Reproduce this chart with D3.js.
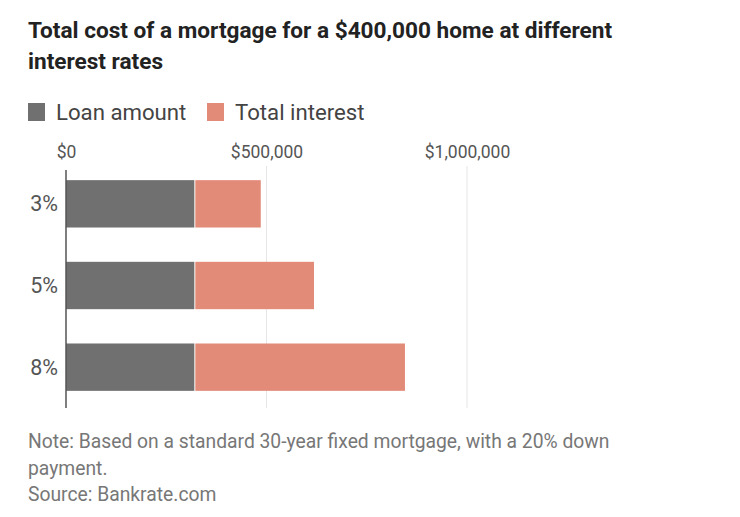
<!DOCTYPE html>
<html><head><meta charset="utf-8">
<script src="https://cdn.jsdelivr.net/npm/d3@7"></script>
<style>
body{margin:0;background:#fff;}
text{font-family:"Roboto",sans-serif;}
</style></head>
<body><svg id="c" width="740" height="517"></svg>
<script>
const categories = ["3%", "5%", "8%"];
const loanAmount = [320000, 320000, 320000];
const totalInterest = [165705, 298427, 525282];
const seriesNames = ["Loan amount", "Total interest"];
const tickValues = [0, 500000, 1000000];
const tickLabels = ["$0", "$500,000", "$1,000,000"];
const colors = ["#707070", "#e38b79"];

const svg = d3.select("#c");
const x = d3.scaleLinear().domain([0, 1000000]).range([66, 467]);
const y = d3.scaleBand().domain(categories).range([163, 408]).paddingInner(0.42).paddingOuter(0.21);

// title
const title = svg.append("text").attr("fill", "#222").attr("font-weight", "bold").attr("font-size", 22.6);
title.append("tspan").attr("x", 28).attr("y", 38).text("Total cost of a mortgage for a $400,000 home at different");
title.append("tspan").attr("x", 28).attr("y", 69).text("interest rates");

// legend
const legendX = [28, 207];
seriesNames.forEach((n, i) => {
  svg.append("rect").attr("x", legendX[i]).attr("y", 103).attr("width", 17).attr("height", 18).attr("fill", colors[i]);
  svg.append("text").attr("x", legendX[i] + 28).attr("y", 120).attr("font-size", 22.2).attr("fill", "#444").text(n);
});

// gridlines
svg.append("g").selectAll("line").data(tickValues.slice(1)).join("line")
  .attr("x1", d => x(d)).attr("x2", d => x(d)).attr("y1", 166).attr("y2", 408)
  .attr("stroke", "#e6e6e6").attr("stroke-width", 1);

// tick labels via axis
const axis = d3.axisTop(x).tickValues(tickValues).tickFormat((d, i) => tickLabels[i]).tickSize(0);
const ag = svg.append("g").attr("transform", "translate(0,158)").call(axis);
ag.select(".domain").remove();
ag.selectAll("text").attr("font-size", 17.5).attr("fill", "#555").attr("dy", 0).attr("y", 0)
  .style("font-family", "Roboto,sans-serif");

// bars
const stackData = categories.map((c, i) => ({cat: c, loan: loanAmount[i], interest: totalInterest[i]}));
const stack = d3.stack().keys(["loan", "interest"])(stackData);
svg.append("g").selectAll("g").data(stack).join("g").attr("fill", (d, i) => colors[i])
  .selectAll("rect").data(d => d).join("rect")
  .attr("x", d => x(d[0]) + (d[0] > 0 ? 1 : 0))
  .attr("y", d => y(d.data.cat))
  .attr("width", d => x(d[1]) - x(d[0]) - (d[0] > 0 ? 1 : 0))
  .attr("height", y.bandwidth());

// y axis line
svg.append("line").attr("x1", 66).attr("x2", 66).attr("y1", 170).attr("y2", 408).attr("stroke", "#555").attr("stroke-width", 1.5);

// category labels
svg.append("g").selectAll("text").data(categories).join("text")
  .attr("x", 58).attr("y", d => y(d) + y.bandwidth() / 2 + 7.5)
  .attr("text-anchor", "end").attr("font-size", 21.5).attr("fill", "#555").text(d => d);

// notes
const notes = ["Note: Based on a standard 30-year fixed mortgage, with a 20% down", "payment.", "Source: Bankrate.com"];
svg.append("g").selectAll("text").data(notes).join("text")
  .attr("x", 28).attr("y", (d, i) => 448 + i * 26.5)
  .attr("font-size", 19.3).attr("fill", "#777").text(d => d);
</script></body></html>
